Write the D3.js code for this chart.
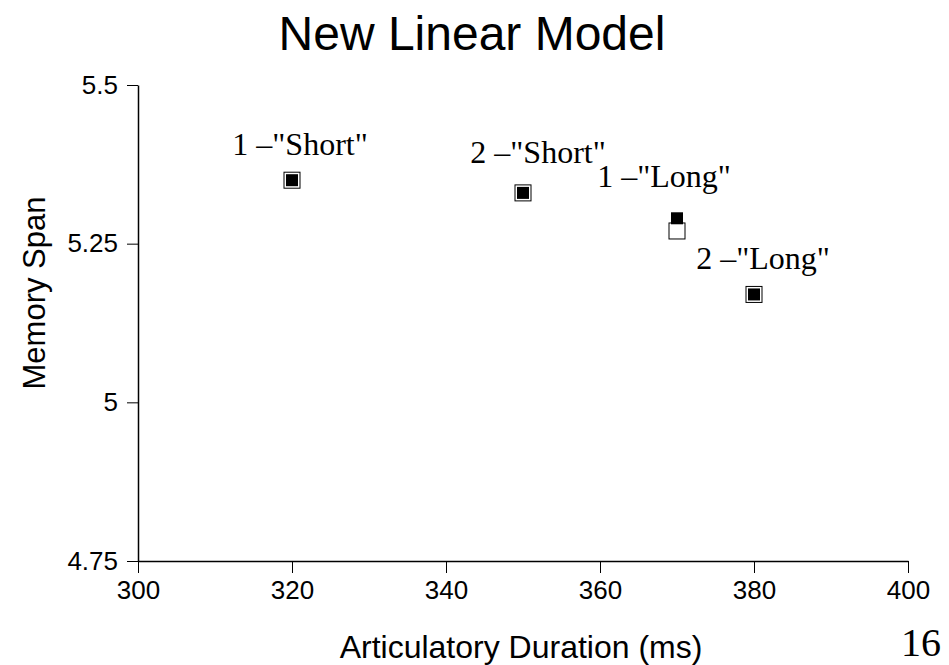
<!DOCTYPE html>
<html>
<head>
<meta charset="utf-8">
<script src="https://cdn.jsdelivr.net/npm/d3@7"></script>
<style>
  html, body { margin: 0; padding: 0; background: #fff; }
  svg { display: block; }
</style>
</head>
<body>
<svg id="chart" width="949" height="665"></svg>
<script>
// Conditions and their articulatory durations (ms)
const conditions = ['1 –"Short"', '2 –"Short"', '1 –"Long"', '2 –"Long"'];
const durations = [320, 350, 370, 380];
// Memory span: observed (open squares) and model prediction (filled squares)
const observedSpan = [5.35, 5.33, 5.27, 5.17];
const predictedSpan = [5.35, 5.33, 5.29, 5.17];
// Axis ticks
const xTicks = [300, 320, 340, 360, 380, 400];
const yTicks = [4.75, 5, 5.25, 5.5];
const yTickLabels = ["4.75", "5", "5.25", "5.5"];
// Label offsets (px) relative to each point
const labelDx = [8, 15, -13, 9];
const labelDy = [-25, -30, -31, -25];

const svg = d3.select("#chart");
const margin = { left: 138, right: 41, top: 85, bottom: 104 };
const W = 949, H = 665;

const x = d3.scaleLinear().domain([300, 400]).range([margin.left, W - margin.right]);
const y = d3.scaleLinear().domain([4.75, 5.5]).range([H - margin.bottom, margin.top]);

const sans = "Arial, 'Liberation Sans', Helvetica, sans-serif";
const serif = "'Times New Roman', 'Liberation Serif', Times, serif";

// Title
svg.append("text")
  .attr("x", 472).attr("y", 50)
  .attr("text-anchor", "middle")
  .attr("font-family", sans).attr("font-size", 48)
  .text("New Linear Model");

// X axis
const xAxis = svg.append("g")
  .attr("transform", `translate(0,${y(4.75)})`)
  .call(d3.axisBottom(x).tickValues(xTicks).tickFormat(d3.format("d")).tickSize(12).tickSizeOuter(0).tickPadding(8));
xAxis.select(".domain").attr("stroke", "#000").attr("stroke-width", 1.5);
xAxis.selectAll(".tick line").attr("stroke", "#000").attr("stroke-width", 1);
xAxis.selectAll(".tick text").attr("font-family", sans).attr("font-size", 26).attr("fill", "#000");

// Y axis
const yAxis = svg.append("g")
  .attr("transform", `translate(${x(300)},0)`)
  .call(d3.axisLeft(y).tickValues(yTicks).tickFormat((d, i) => yTickLabels[i]).tickSize(11).tickSizeOuter(0).tickPadding(9));
yAxis.select(".domain").attr("stroke", "#000").attr("stroke-width", 1.5);
yAxis.selectAll(".tick line").attr("stroke", "#000").attr("stroke-width", 1);
yAxis.selectAll(".tick text").attr("font-family", sans).attr("font-size", 26).attr("fill", "#000");

// Axis titles
svg.append("text")
  .attr("x", 521).attr("y", 658)
  .attr("text-anchor", "middle")
  .attr("font-family", sans).attr("font-size", 32)
  .text("Articulatory Duration (ms)");

svg.append("text")
  .attr("transform", "translate(45,293) rotate(-90)")
  .attr("text-anchor", "middle")
  .attr("font-family", sans).attr("font-size", 31)
  .text("Memory Span");

// Page number
svg.append("text")
  .attr("x", 901).attr("y", 656)
  .attr("font-family", serif).attr("font-size", 40)
  .text("16");

// Observed: open squares
const openSize = 16;
svg.append("g").selectAll("rect")
  .data(durations)
  .join("rect")
  .attr("x", (d) => x(d) - openSize / 2)
  .attr("y", (d, i) => y(observedSpan[i]) - openSize / 2)
  .attr("width", openSize).attr("height", openSize)
  .attr("fill", "#fff").attr("stroke", "#000").attr("stroke-width", 1);

// Predicted: filled squares
const fillSize = 12;
svg.append("g").selectAll("rect")
  .data(durations)
  .join("rect")
  .attr("x", (d) => x(d) - fillSize / 2)
  .attr("y", (d, i) => y(predictedSpan[i]) - fillSize / 2)
  .attr("width", fillSize).attr("height", fillSize)
  .attr("fill", "#000");

// Condition labels
svg.append("g").selectAll("text")
  .data(conditions)
  .join("text")
  .attr("x", (d, i) => x(durations[i]) + labelDx[i])
  .attr("y", (d, i) => y(Math.max(observedSpan[i], predictedSpan[i])) + labelDy[i])
  .attr("text-anchor", "middle")
  .attr("font-family", serif).attr("font-size", 32)
  .text((d) => d);
</script>
</body>
</html>
